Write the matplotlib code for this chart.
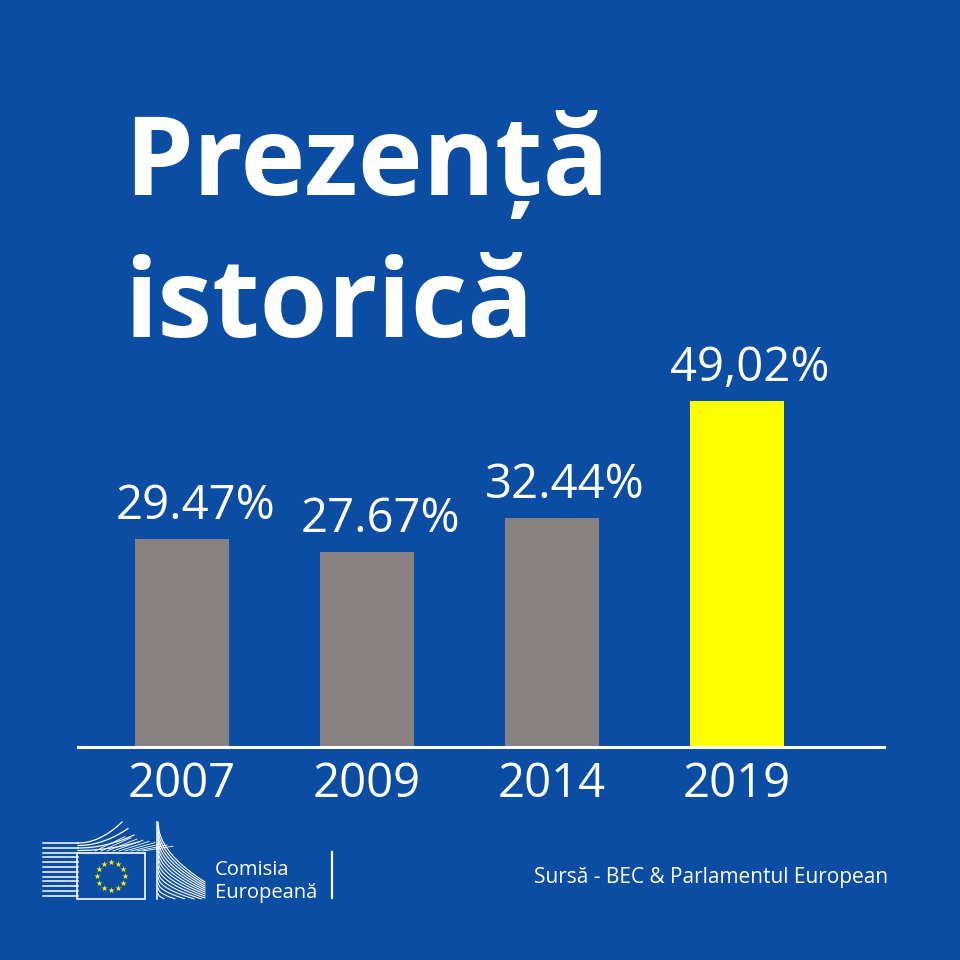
"""
Prezență istorică - participarea la alegerile europene (România).
"""
import numpy as np
import matplotlib
matplotlib.use("Agg")
import matplotlib.pyplot as plt
from matplotlib.patches import Rectangle

# Date
ani = ['2007', '2009', '2014', '2019']
prezenta = [29.47, 27.67, 32.44, 49.02]
etichete = ['29.47%', '27.67%', '32.44%', '49,02%']
culori = ['#878280', '#878280', '#878280', '#FFFF00']

ALBASTRU = '#0B4DA2'
plt.rcParams['font.family'] = ['Open Sans', 'DejaVu Sans']

fig = plt.figure(figsize=(9.6, 9.6), dpi=100, facecolor=ALBASTRU)

# Titlu
fig.text(124 / 960, 1 - 195 / 960, 'Prezență', color='white', fontsize=79,
         fontweight='bold', va='baseline', ha='left')
fig.text(124 / 960, 1 - 337 / 960, 'istorică', color='white', fontsize=79,
         fontweight='bold', va='baseline', ha='left')

# Grafic cu bare
px_per_pct = 7.05
ymax = 55
ax = fig.add_axes([78 / 960, (960 - 747) / 960, 806 / 960, ymax * px_per_pct / 960])
ax.set_facecolor('none')
x = np.arange(len(ani))
ax.bar(x, prezenta, width=0.508, color=culori, zorder=2)
ax.set_xlim(-0.5622, 3.7946)
ax.set_ylim(0, ymax)

for xi, v, txt in zip(x, prezenta, etichete):
    ax.annotate(txt, (xi, v), xytext=(13, 20), textcoords='offset pixels',
                ha='center', va='baseline', color='white', fontsize=34,
                annotation_clip=False)

for s in ['top', 'right', 'left']:
    ax.spines[s].set_visible(False)
ax.spines['bottom'].set_color('white')
ax.spines['bottom'].set_linewidth(2.2)
ax.set_yticks([])
ax.set_xticks(x)
ax.set_xticklabels(ani, color='white', fontsize=34)
ax.tick_params(axis='x', length=0, pad=10)

# Logo Comisia Europeană (desenat simplu)
d = fig.add_axes([0, 0, 1, 1], zorder=-1)
d.set_xlim(0, 960)
d.set_ylim(960, 0)
d.axis('off')

# cladirea din stanga
for i in range(12):
    y0 = 843 + i * 4.8
    d.plot([43, 78], [y0, y0], color='white', lw=1.1)
for i in range(4):
    y0 = 843 + i * 2.5
    t = np.linspace(0, 1, 30)
    xs = 78 + t * (44 + i * 6)
    ys = y0 - (t ** 2) * (21 - i * 4)
    d.plot(xs, ys, color='white', lw=0.9)
for i in range(9):
    t = np.linspace(0, 1, 30)
    xs = 95 + i * 6 + t * 30
    d.plot(xs, 851 - t * (12 - i) * 1.2, color='white', lw=0.6)

# drapelul
d.add_patch(Rectangle((77, 853), 68, 46, facecolor=ALBASTRU,
                      edgecolor='white', lw=1.2))
ung = np.linspace(0, 2 * np.pi, 13)[:-1]
d.scatter(111 + 14 * np.cos(ung), 876 + 14 * np.sin(ung), marker='*',
          s=22, color='#FFED00', linewidths=0)

# cladirea din dreapta
d.plot([157, 157], [822, 899], color='white', lw=1.1)
for i in range(14):
    t = np.linspace(0, 1, 40)
    xs = 158 + t * 47
    ys = 822 + i * 5.5 + np.sqrt(t) * (60 - i * 3.5)
    m = ys <= 899
    d.plot(xs[m], ys[m], color='white', lw=0.8)

d.text(215, 875, 'Comisia', color='white', fontsize=14.5, va='baseline')
d.text(215, 898, 'Europeană', color='white', fontsize=14.5, va='baseline')
d.plot([332, 332], [852, 898], color='white', lw=1.6)

# Sursa
d.text(888, 883, 'Sursă - BEC & Parlamentul European', color='white',
       fontsize=15, ha='right', va='baseline')

fig.savefig('out.png', dpi=100, facecolor=ALBASTRU)
